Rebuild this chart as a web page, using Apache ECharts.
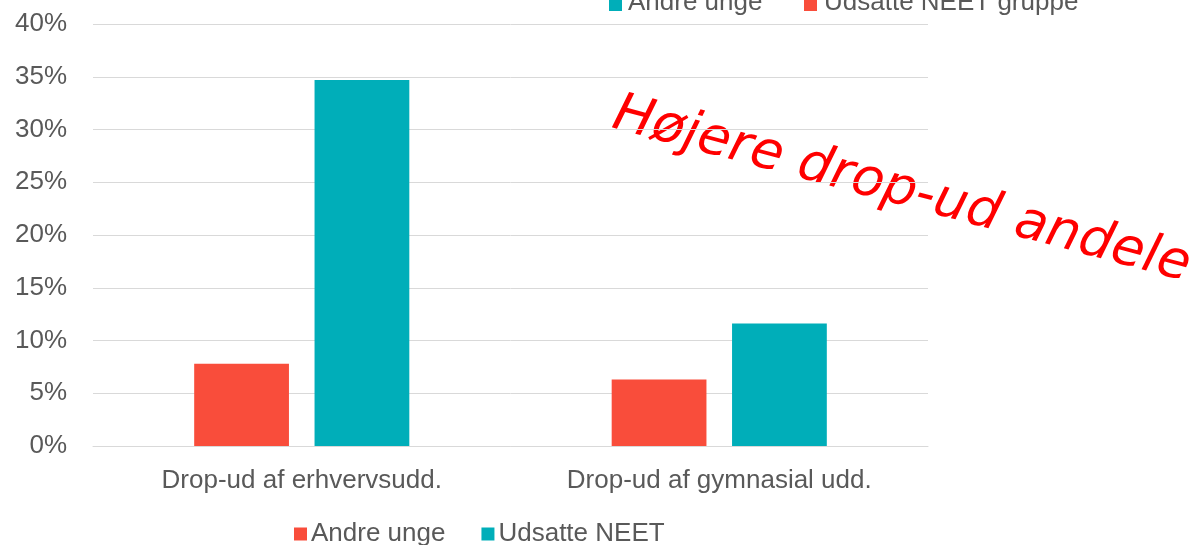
<!DOCTYPE html>
<html>
<head>
<meta charset="utf-8">
<script src="https://cdn.jsdelivr.net/npm/echarts@6/dist/echarts.min.js"></script>
<style>
  html, body { margin: 0; padding: 0; background: #fff; }
  #chart { width: 1194px; height: 545px; }
</style>
</head>
<body>
<div id="chart"></div>
<script>
const categories = ['Drop-ud af erhvervsudd.', 'Drop-ud af gymnasial udd.']
const andreUnge = [7.8, 6.3]
const udsatteNeet = [34.7, 11.6]
const seriesNames = ['Andre unge', 'Udsatte NEET']
const topLegendNames = ['Andre unge', 'Udsatte NEET gruppe']
const annotation = 'Højere drop-ud andele'

const red = '#F94D3B'
const teal = '#00AEB9'
const textGrey = '#595959'
const font = '"Liberation Sans", Arial, sans-serif'
const fs = 26

const myChart = echarts.init(document.getElementById('chart'))
let option = {
  animation: false,
  grid: { left: 93, right: 266, top: 24, bottom: 99 },
  legend: {
    data: seriesNames,
    left: 294,
    top: 521,
    padding: 0,
    itemWidth: 13,
    itemHeight: 13,
    itemGap: 36,
    icon: 'rect',
    textStyle: { fontSize: fs, color: textGrey, fontFamily: font, padding: [0, 0, 0, -1] }
  },
  xAxis: {
    type: 'category',
    data: categories,
    axisLine: { show: true, lineStyle: { color: '#D9D9D9', width: 1 } },
    axisTick: { show: false },
    axisLabel: { fontSize: fs, color: textGrey, fontFamily: font, margin: 22 }
  },
  yAxis: {
    type: 'value',
    min: 0,
    max: 40,
    interval: 5,
    axisLine: { show: false },
    axisTick: { show: false },
    splitLine: { lineStyle: { color: '#D9D9D9', width: 1 } },
    axisLabel: { fontSize: fs, color: textGrey, fontFamily: font, margin: 26, formatter: '{value}%' }
  },
  series: [
    {
      name: seriesNames[0],
      type: 'bar',
      data: andreUnge,
      barWidth: '22.7%',
      barGap: '27%',
      itemStyle: { color: red }
    },
    {
      name: seriesNames[1],
      type: 'bar',
      data: udsatteNeet,
      barWidth: '22.7%',
      itemStyle: { color: teal }
    }
  ],
  graphic: [
    // legend at the top, cut off by the image edge
    { type: 'rect', shape: { x: 609, y: -2, width: 13, height: 13 }, style: { fill: teal } },
    { type: 'text', style: { x: 628, y: 3, text: topLegendNames[0], fill: textGrey, font: fs + 'px ' + font, verticalAlign: 'middle' } },
    { type: 'rect', shape: { x: 804, y: -2, width: 13, height: 13 }, style: { fill: red } },
    { type: 'text', style: { x: 824, y: 3, text: topLegendNames[1], fill: textGrey, font: fs + 'px ' + font, verticalAlign: 'middle' } },
    {
      type: 'text',
      x: 621,
      y: 88,
      rotation: -15 * Math.PI / 180,
      style: {
        text: annotation,
        fill: '#FF0000',
        font: 'oblique 53px "DejaVu Sans"',
        verticalAlign: 'top'
      }
    }
  ]
}
myChart.setOption(option)
</script>
</body>
</html>
